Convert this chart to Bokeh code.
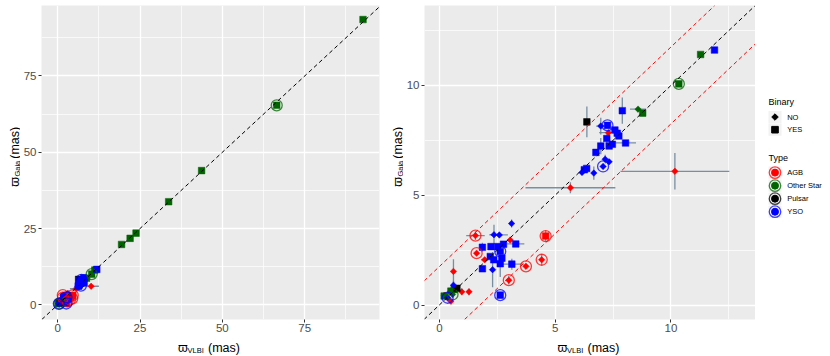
import numpy as np
from bokeh.plotting import figure
from bokeh.models import ColumnDataSource, Range1d, FixedTicker, Slope
from bokeh.layouts import row, column
from bokeh.embed import file_html
from bokeh.resources import INLINE
from bokeh.core.properties import value

# ---------------- data ----------------
type_levels = ["AGB", "Other Star", "Pulsar", "YSO"]
binary_levels = ["NO", "YES"]

agb_vlbi = [10.17, 5.66, 7.30, 1.56, 3.06, 4.59, 1.61, 1.96, 4.42, 3.74, 3.00, 0.61, 0.97, 1.28, 0.21, 0.29, 0.50]
agb_gaia = [6.09, 5.34, 7.85, 3.16, 2.96, 3.14, 2.36, 2.06, 2.06, 1.76, 1.13, 1.53, 0.60, 0.60, 0.44, 0.36, 0.17]
agb_xerr = [2.35, 1.94, 0.40, 0.40, 0.08, 0.08, 0.08, 0.15, 0.08, 0.08, 0.08, 0.05, 0.05, 0.05, 0.05, 0.05, 0.05]
agb_yerr = [0.83, 0.25, 0.10, 0.20, 0.10, 0.25, 0.10, 0.10, 0.25, 0.10, 0.20, 0.55, 0.15, 0.15, 0.05, 0.05, 0.05]
agb_binary = ["NO", "NO", "NO", "NO", "NO", "YES", "NO", "NO", "NO", "NO", "NO", "NO", "NO", "NO", "NO", "NO", "NO"]
agb_ring = [0, 0, 0, 1, 0, 1, 1, 0, 1, 1, 1, 0, 0, 0, 0, 0, 0]

oth_vlbi = [92.7, 66.5, 43.7, 33.7, 23.8, 22.0, 19.4, 11.28, 10.34, 8.58, 8.78, 0.50, 0.64, 0.21, 0.57]
oth_gaia = [93.5, 65.4, 44.0, 33.8, 23.5, 21.8, 19.8, 11.41, 10.07, 8.92, 8.74, 0.63, 0.70, 0.41, 0.48]
oth_xerr = [0.10, 0.10, 0.10, 0.10, 0.10, 0.10, 0.10, 0.05, 0.05, 0.35, 0.05, 0.05, 0.05, 0.05, 0.05]
oth_yerr = [0.10, 0.10, 0.10, 0.10, 0.10, 0.10, 0.10, 0.05, 0.05, 0.05, 0.05, 0.05, 0.05, 0.05, 0.05]
oth_binary = ["YES", "YES", "YES", "YES", "YES", "YES", "YES", "YES", "YES", "NO", "YES", "YES", "YES", "YES", "NO"]
oth_ring = [0, 1, 0, 0, 0, 0, 0, 0, 1, 0, 0, 0, 0, 0, 1]

psr_vlbi = [6.37, 0.76]
psr_gaia = [8.34, 0.76]
psr_xerr = [0.05, 0.05]
psr_yerr = [0.70, 0.10]
psr_binary = ["YES", "YES"]
psr_ring = [0, 0]

yso_vlbi = [11.88, 7.90, 6.97, 7.26, 7.58, 7.68, 7.75, 8.04, 7.23, 6.97, 7.33, 7.47, 6.76,
            7.16, 7.33, 7.07, 6.36, 6.26, 6.16, 6.67, 3.12, 2.36, 2.59, 3.30, 1.86, 2.23,
            2.52, 2.77, 2.63, 2.20, 2.35, 2.70, 2.63, 3.13, 1.86, 2.30, 2.63, 0.61, 0.36]
yso_gaia = [11.61, 8.85, 8.15, 8.18, 7.97, 7.82, 7.70, 7.38, 7.58, 7.24, 7.24, 7.32, 6.95,
            6.64, 6.52, 6.31, 6.22, 6.16, 6.04, 6.01, 3.71, 3.20, 3.19, 2.78, 2.63, 2.66,
            2.66, 2.77, 2.44, 2.21, 2.06, 2.13, 1.88, 1.86, 1.65, 1.61, 0.45, 0.90, 0.33]
yso_xerr = [0.05, 0.05, 0.20, 0.05, 0.05, 0.05, 0.05, 0.45, 0.05, 0.05, 0.05, 0.05, 0.05,
            0.05, 0.05, 0.05, 0.05, 0.05, 0.05, 0.05, 0.05, 0.20, 0.37, 0.37, 0.05, 0.10,
            0.10, 0.10, 0.05, 0.10, 0.10, 0.10, 0.05, 0.50, 0.05, 0.05, 0.05, 0.05, 0.05]
yso_yerr = [0.05, 0.60, 0.38, 0.10, 0.05, 0.05, 0.05, 0.05, 0.20, 0.37, 0.05, 0.05, 0.05,
            0.20, 0.10, 0.05, 0.05, 0.05, 0.05, 0.30, 0.18, 0.45, 0.05, 0.05, 0.20, 0.10,
            0.10, 0.10, 0.05, 0.10, 0.10, 0.10, 0.60, 0.25, 0.05, 0.80, 0.05, 0.20, 0.05]
yso_binary = ["YES", "YES", "NO", "YES", "YES", "YES", "YES", "YES", "YES", "YES", "YES", "YES", "YES",
              "NO", "NO", "NO", "YES", "YES", "NO", "NO", "NO", "NO", "NO", "YES", "YES", "YES",
              "YES", "YES", "YES", "YES", "YES", "YES", "YES", "YES", "YES", "NO", "YES", "NO", "NO"]
yso_ring = [0, 0, 0, 1, 0, 0, 0, 0, 0, 0, 0, 0, 0,
            0, 0, 1, 0, 0, 0, 0, 0, 0, 0, 0, 0, 0,
            0, 0, 1, 0, 0, 0, 0, 0, 0, 0, 1, 0, 1]

band = 1.75  # offset of the red dashed lines (mas)

xtitle_main, xtitle_sub, unit = "ϖ", "VLBI", "(mas)"
ytitle_main, ytitle_sub = "ϖ", "Gaia"

# ---------------- styling ----------------
FONT = "Liberation Sans"
type_colors = {"AGB": "#FF0000", "Other Star": "#006400", "Pulsar": "#000000", "YSO": "#0000FF"}
ERR_COLOR = "#6A859B"

groups = [
    ("AGB", agb_vlbi, agb_gaia, agb_xerr, agb_yerr, agb_binary, agb_ring),
    ("Other Star", oth_vlbi, oth_gaia, oth_xerr, oth_yerr, oth_binary, oth_ring),
    ("Pulsar", psr_vlbi, psr_gaia, psr_xerr, psr_yerr, psr_binary, psr_ring),
    ("YSO", yso_vlbi, yso_gaia, yso_xerr, yso_yerr, yso_binary, yso_ring),
]

cols = {k: [] for k in ["x", "y", "xe", "ye", "type", "binary", "ring"]}
for t, xs, ys, xe_, ye_, bi, ri in groups:
    cols["x"] += xs
    cols["y"] += ys
    cols["xe"] += xe_
    cols["ye"] += ye_
    cols["type"] += [t] * len(xs)
    cols["binary"] += bi
    cols["ring"] += ri

x = np.array(cols["x"]); y = np.array(cols["y"])
xe = np.array(cols["xe"]); ye = np.array(cols["ye"])
data = dict(
    x=x, y=y, xlo=x - xe, xhi=x + xe, ylo=y - ye, yhi=y + ye,
    color=[type_colors[t] for t in cols["type"]],
    angle=[np.pi / 4 if b == "NO" else 0.0 for b in cols["binary"]],
    size=[4.6 if b == "NO" else 6.6 for b in cols["binary"]],
)
src = ColumnDataSource(data)
ring_mask = np.array(cols["ring"]) == 1
ring_src = ColumnDataSource(dict(x=x[ring_mask], y=y[ring_mask],
                                 color=[c for c, m in zip(data["color"], ring_mask) if m]))

# ---------------- geometry ----------------
HTOP = 335           # height of the row with the panels
HSTRIP = 356 - HTOP  # strip with the x-axis titles
MB_TOP, MB_BOT = 5, 16
FH = HTOP - MB_TOP - MB_BOT
W_YT1, W_P1, W_YT2, W_P2, W_LG = 20, 363, 20, 352, 75
P1_BL, P1_BR = 17, 4
P2_BL, P2_BR = 17, 0
TOTAL_W = W_YT1 + W_P1 + W_YT2 + W_P2 + W_LG


def make_panel(width, mb_left, mb_right, xr, yr, ticks, minor, red_lines):
    p = figure(width=width, height=HTOP, x_range=Range1d(*xr), y_range=Range1d(*yr),
               output_backend="svg", toolbar_location=None,
               min_border_left=mb_left, min_border_right=mb_right,
               min_border_top=MB_TOP, min_border_bottom=MB_BOT)
    p.background_fill_color = "#EBEBEB"
    p.border_fill_color = "white"
    p.outline_line_color = None
    for ax in (p.xaxis[0], p.yaxis[0]):
        ax.ticker = FixedTicker(ticks=ticks, minor_ticks=minor)
        ax.axis_line_color = None
        ax.major_tick_line_color = "#333333"
        ax.major_tick_in = 0
        ax.major_tick_out = 3
        ax.minor_tick_line_color = None
        ax.major_label_text_color = "#4D4D4D"
        ax.major_label_text_font = FONT
        ax.major_label_text_font_size = "11.5px"
        ax.major_label_standoff = 1
    p.xaxis[0].major_label_standoff = 0
    for g in (p.xgrid[0], p.ygrid[0]):
        g.grid_line_color = "white"
        g.grid_line_width = 1.3
        g.minor_grid_line_color = "white"
        g.minor_grid_line_width = 0.7

    p.add_layout(Slope(gradient=1, y_intercept=0, line_color="black", line_dash="4 3", line_width=1))
    if red_lines:
        for off in (band, -band):
            p.add_layout(Slope(gradient=1, y_intercept=off, line_color="red", line_dash="4 3", line_width=1))

    p.segment(x0="xlo", y0="y", x1="xhi", y1="y", source=src, line_color=ERR_COLOR, line_width=1.3, line_alpha=0.9)
    p.segment(x0="x", y0="ylo", x1="x", y1="yhi", source=src, line_color=ERR_COLOR, line_width=1.3, line_alpha=0.9)
    p.scatter(x="x", y="y", source=src, marker="square", angle="angle", size="size",
              fill_color="color", line_color="color", line_width=0.5)
    p.scatter(x="x", y="y", source=ring_src, marker="circle", size=11, fill_color=None,
              line_color="color", line_width=1.3, line_alpha=0.75)
    return p


def blank(width, height, xr, yr):
    f = figure(width=width, height=height, x_range=Range1d(*xr), y_range=Range1d(*yr),
               output_backend="svg", toolbar_location=None, x_axis_type=None, y_axis_type=None,
               min_border=0)
    f.outline_line_color = None
    f.background_fill_color = "white"
    f.border_fill_color = "white"
    f.grid.visible = False
    return f


p1 = make_panel(W_P1, P1_BL, P1_BR, (-4.9, 97.7), (-4.8, 98.1), [0, 25, 50, 75],
                [-12.5, 12.5, 37.5, 62.5, 87.5], False)
p2 = make_panel(W_P2, P2_BL, P2_BR, (-0.64, 13.65), (-0.66, 13.64), [0, 5, 10],
                [-2.5, 2.5, 7.5, 12.5], True)

TXT = dict(text_font=value(FONT), text_color="black", text_align="left", text_baseline="alphabetic")
MAIN_FS, SUB_FS = "12.5px", "7.5px"


def ytitle(width, base_x):
    f = blank(width, HTOP, (0, width), (0, HTOP))
    cy = MB_BOT + FH / 2   # frame centre, measured from the bottom of the row
    f.text(x=[base_x], y=[cy - 31.5], text=[ytitle_main], angle=np.pi / 2, text_font_size=MAIN_FS, **TXT)
    f.text(x=[base_x + 2.5], y=[cy - 20.5], text=[ytitle_sub], angle=np.pi / 2, text_font_size=SUB_FS, **TXT)
    f.text(x=[base_x], y=[cy - 1.5], text=[unit], angle=np.pi / 2, text_font_size=MAIN_FS, **TXT)
    return f


yt1 = ytitle(W_YT1, 14.0)
yt2 = ytitle(W_YT2, 14.0)

# x-axis titles in a strip under the panels
xt = blank(TOTAL_W, HSTRIP, (0, TOTAL_W), (HSTRIP, 0))
c1 = W_YT1 + P1_BL + (W_P1 - P1_BL - P1_BR) / 2
c2 = W_YT1 + W_P1 + W_YT2 + P2_BL + (W_P2 - P2_BL - P2_BR) / 2
centres = [c1, c2]
xt.text(x=[c - 30.5 for c in centres], y=12.5, text=[xtitle_main] * 2, text_font_size=MAIN_FS, **TXT)
xt.text(x=[c - 21 for c in centres], y=15, text=[xtitle_sub] * 2, text_font_size=SUB_FS, **TXT)
xt.text(x=[c - 0.5 for c in centres], y=12.5, text=[unit] * 2, text_font_size=MAIN_FS, **TXT)

# ---------------- legend panel ----------------
lg = blank(W_LG, HTOP, (0, W_LG), (HTOP, 0))
key_x, lab_x, title_x = 19.5, 31.7, 13
bin_y = [119 + 13.5 * i for i in range(len(binary_levels))]
type_y = [178.3 + 13.9 * i for i in range(len(type_levels))]
LTXT = dict(text_font=value(FONT), text_color="black", text_baseline="middle")

lg.text(x=[title_x], y=[103], text=["Binary"], text_font_size="9px", **LTXT)
lg.rect(x=key_x, y=bin_y, width=13, height=13, fill_color="#F2F2F2", line_color=None)
lg.scatter(x=key_x, y=bin_y, marker="square",
           angle=[np.pi / 4 if b == "NO" else 0.0 for b in binary_levels],
           size=[4.6 if b == "NO" else 6.6 for b in binary_levels], color="black")
lg.text(x=lab_x, y=bin_y, text=binary_levels, text_font_size="7.5px", **LTXT)

lg.text(x=[title_x], y=[162.7], text=["Type"], text_font_size="9px", **LTXT)
lg.rect(x=key_x, y=type_y, width=13, height=13, fill_color="#F2F2F2", line_color=None)
tcols = [type_colors[t] for t in type_levels]
lg.scatter(x=key_x, y=type_y, marker="circle", size=7, color=tcols)
lg.scatter(x=key_x, y=type_y, marker="circle", size=11.5, fill_color=None, line_color=tcols,
           line_width=1.3, line_alpha=0.75)
lg.text(x=lab_x, y=type_y, text=type_levels, text_font_size="7.5px", **LTXT)

layout = column(row(yt1, p1, yt2, p2, lg), xt)
open("out.html", "w").write(file_html(layout, INLINE))
